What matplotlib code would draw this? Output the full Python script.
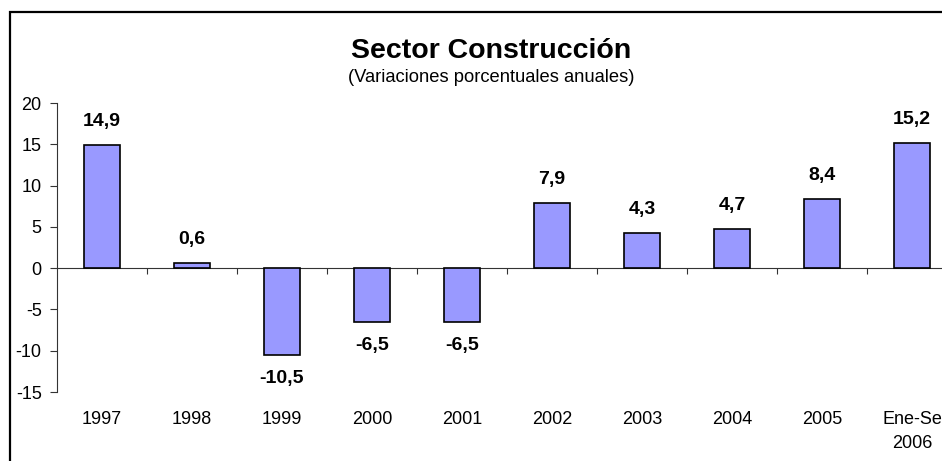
import matplotlib
matplotlib.use("Agg")
import matplotlib.pyplot as plt
from matplotlib.patches import Rectangle

plt.rcParams["font.family"] = ["Liberation Sans", "DejaVu Sans"]

# data
categories = ["1997", "1998", "1999", "2000", "2001", "2002", "2003", "2004", "2005", "Ene-Se\n2006"]
values = [14.9, 0.6, -10.5, -6.5, -6.5, 7.9, 4.3, 4.7, 8.4, 15.2]
value_labels = ["14,9", "0,6", "-10,5", "-6,5", "-6,5", "7,9", "4,3", "4,7", "8,4", "15,2"]
yticks = [-15, -10, -5, 0, 5, 10, 15, 20]

W, H = 942, 461
fig = plt.figure(figsize=(W / 100, H / 100), dpi=100)

# axes placed in pixel terms (runs past right edge like the original)
ax = fig.add_axes([57 / W, (H - 392) / H, 900 / W, 289 / H])

x = list(range(len(categories)))
ax.bar(x, values, width=0.4, color="#9999FF", edgecolor="black", linewidth=1.2, zorder=3)

ax.set_xlim(-0.5, len(categories) - 0.5)
ax.set_ylim(-15, 20)

# spines
for s in ["top", "right"]:
    ax.spines[s].set_visible(False)
ax.spines["left"].set_color("#333333")
ax.spines["bottom"].set_position(("data", 0))
ax.spines["bottom"].set_color("#333333")

# y ticks
ax.set_yticks(yticks)
ax.set_yticklabels([str(t) for t in yticks], fontsize=13)
ax.tick_params(axis="y", direction="out", length=5, color="#333333", pad=6)

# x ticks at category boundaries, labels placed below the plot
ax.set_xticks([i + 0.5 for i in x])
ax.set_xticklabels([])
ax.tick_params(axis="x", direction="out", length=4, color="#333333")

for i, lab in enumerate(categories):
    ax.text(i, -17.3, lab, ha="center", va="top", fontsize=13,
            multialignment="center", linespacing=1.55, clip_on=False)

# value labels
for i, (v, lab) in enumerate(zip(values, value_labels)):
    off = 17 if v >= 0 else -17
    ax.annotate(lab, (i, v), xytext=(0, off), textcoords="offset points",
                ha="center", va="center", fontsize=14, fontweight="bold")

# titles
fig.text(491 / W, 1 - 51 / H, "Sector Construcción", ha="center", va="center",
         fontsize=20.5, fontweight="bold")
fig.text(491 / W, 1 - 78 / H, "(Variaciones porcentuales anuales)", ha="center",
         va="center", fontsize=13.2)

# outer frame (only left and top visible in the crop)
fig.patches.append(Rectangle((10 / W, -0.2), 1.2, 1.2 - 12 / H, transform=fig.transFigure,
                             fill=False, edgecolor="black", linewidth=1.6, clip_on=False))

fig.savefig("out.png", dpi=100)
